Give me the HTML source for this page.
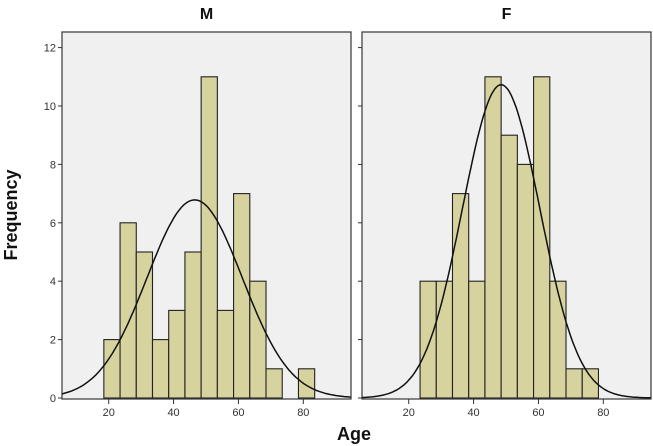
<!DOCTYPE html>
<html><head><meta charset="utf-8"><style>
body{margin:0;background:#fff;}
svg{display:block;font-family:"Liberation Sans",Arial,sans-serif;}
</style></head><body>
<svg id="chart" width="653" height="446"></svg>
<script>
const binStartsM = [18.5,23.5,28.5,33.5,38.5,43.5,48.5,53.5,58.5,63.5,68.5,73.5,78.5];
const countsM = [2,6,5,2,3,5,11,3,7,4,1,0,1];
const binStartsF = [23.5,28.5,33.5,38.5,43.5,48.5,53.5,58.5,63.5,68.5,73.5];
const countsF = [4,4,7,4,11,9,8,11,4,1,1];
const binWidth = 5;
const meanM = 46.5, sdM = 14.7, nM = 50;
const meanF = 48.5, sdF = 11.9, nF = 64;
const yTicks = [0,2,4,6,8,10,12];
const xTicks = [20,40,60,80];
const panelTitles = ["M","F"];

const NS="http://www.w3.org/2000/svg";
const svg=document.getElementById('chart');
function mk(t,a,p){const e=document.createElementNS(NS,t);for(const k in a)e.setAttribute(k,a[k]);(p||svg).appendChild(e);return e;}
const xMin=5.6,xMax=94.7, y0=398, pxPerUnit=29.2, plotTop=32, plotBottom=399;
const panels=[{left:62,right:351,starts:binStartsM,counts:countsM,mean:meanM,sd:sdM,n:nM},
              {left:362,right:651,starts:binStartsF,counts:countsF,mean:meanF,sd:sdF,n:nF}];
function yScale(v){return y0-v*pxPerUnit;}
panels.forEach((p,pi)=>{
  const xs=v=>p.left+(v-xMin)/(xMax-xMin)*(p.right-p.left);
  const g=mk('g',{});
  
  
  const bg=mk('rect',{x:p.left,y:plotTop,width:p.right-p.left,height:plotBottom-plotTop,fill:'#f0f0f0',stroke:'#444','stroke-width':1.3},g);
  
  
  const t=mk('text',{x:(p.left+p.right)/2,y:19,'text-anchor':'middle','font-size':16,'font-weight':'bold',fill:'#111'},g);
  t.textContent=panelTitles[pi];
  
  
  p.starts.forEach((s,i)=>{
    if(p.counts[i]<=0)return;
    const r=mk('rect',{x:xs(s),y:yScale(p.counts[i]),width:xs(s+binWidth)-xs(s),height:p.counts[i]*pxPerUnit,fill:'#d7d39e',stroke:'#222','stroke-width':1.1},g);
    
    
  });
  let d='';
  for(let a=xMin;a<=xMax;a+=0.5){
    const v=p.n*binWidth/(p.sd*Math.sqrt(2*Math.PI))*Math.exp(-0.5*((a-p.mean)/p.sd)**2);
    d+=(d?'L':'M')+xs(a).toFixed(1)+','+yScale(v).toFixed(1);
  }
  const c=mk('path',{d:d,fill:'none',stroke:'#111','stroke-width':1.5},g);
  
  
  yTicks.forEach(v=>{
    mk('line',{x1:p.left-4,x2:p.left,y1:yScale(v),y2:yScale(v),stroke:'#333'},g);
    if(pi===0){
      const l=mk('text',{x:p.left-6,y:yScale(v)+4,'text-anchor':'end','font-size':11,fill:'#333'},g);
      l.textContent=v;
      
      
    }
  });
  xTicks.forEach(v=>{
    mk('line',{x1:xs(v),x2:xs(v),y1:plotBottom,y2:plotBottom+5,stroke:'#333'},g);
    const l=mk('text',{x:xs(v),y:plotBottom+17,'text-anchor':'middle','font-size':11,fill:'#333'},g);
    l.textContent=v;
    
    
  });
});
const yt=mk('text',{x:0,y:0,transform:'translate(17,215) rotate(-90)','text-anchor':'middle','font-size':18,'font-weight':'bold',fill:'#111'});
yt.textContent='Frequency';


const xt=mk('text',{x:354,y:440,'text-anchor':'middle','font-size':18,'font-weight':'bold',fill:'#111'});
xt.textContent='Age';


</script>
</body></html>
